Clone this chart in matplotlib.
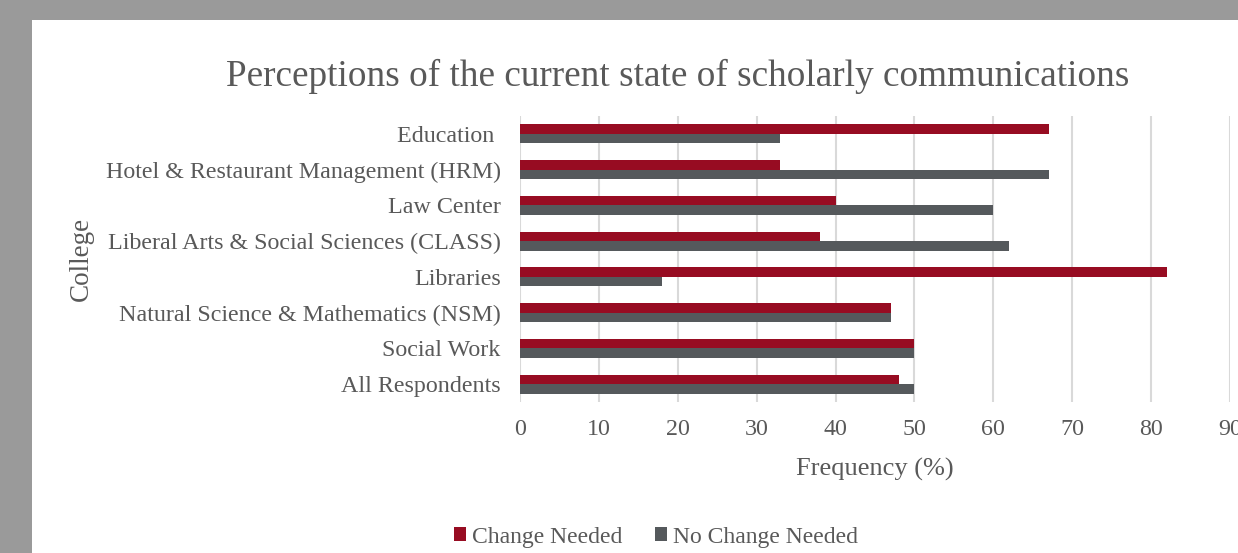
import numpy as np
import matplotlib.pyplot as plt
from matplotlib.patches import Rectangle

# 各学院对学术交流现状的看法 (%)
colleges = ['Education ', 'Hotel & Restaurant Management (HRM)', 'Law Center',
            'Liberal Arts & Social Sciences (CLASS)', 'Libraries',
            'Natural Science & Mathematics (NSM)', 'Social Work', 'All Respondents']
change_needed = [67, 33, 40, 38, 82, 47, 50, 48]
no_change_needed = [33, 67, 60, 62, 18, 47, 50, 50]
xticks = [0, 10, 20, 30, 40, 50, 60, 70, 80, 90]

red = '#970c22'
gray = '#55595c'
txt = '#595959'

plt.rcParams['font.family'] = ['Liberation Serif', 'DejaVu Serif']

fig = plt.figure(figsize=(12.38, 5.53), dpi=100)
fig.patch.set_facecolor('#9a9a9a')
# 白色图表区
fig.patches.append(Rectangle((32 / 1238, 0), 1 - 32 / 1238, 1 - 20 / 553,
                             transform=fig.transFigure, facecolor='white',
                             edgecolor='none', zorder=-10))

ax = fig.add_axes([520 / 1238, 1 - 402 / 553, 710 / 1238, 286 / 553])
ax.set_facecolor('none')

y = np.arange(len(colleges))
h = 0.265
ax.barh(y - h / 2, change_needed, height=h, color=red, label='Change Needed', zorder=3)
ax.barh(y + h / 2, no_change_needed, height=h, color=gray, label='No Change Needed', zorder=3)

ax.set_ylim(len(colleges) - 0.5, -0.5)
ax.set_xlim(0, 90)
ax.set_xticks(xticks)
ax.set_yticks(y)
ax.set_yticklabels(colleges)
ax.tick_params(axis='both', length=0, labelsize=17.3, colors=txt)
ax.tick_params(axis='y', pad=14)
ax.tick_params(axis='x', pad=12)
ax.xaxis.grid(True, color='#d9d9d9', linewidth=1.5, zorder=0)
for s in ax.spines.values():
    s.set_visible(False)

ax.set_xlabel('Frequency (%)', fontsize=19, color=txt, labelpad=13)
ax.set_ylabel('College', fontsize=19.5, color=txt)
ax.yaxis.set_label_coords(-0.60, 0.5)

fig.text(678 / 1238, 1 - 76 / 553, 'Perceptions of the current state of scholarly communications',
         ha='center', va='center', fontsize=26.8, color=txt)

fig.legend(loc='center', bbox_to_anchor=(656 / 1238, 1 - 537 / 553), ncol=2,
           frameon=False, fontsize=17, labelcolor=txt, handlelength=0.5,
           handleheight=0.5, handletextpad=0.25, columnspacing=1.4)

plt.savefig('out.png', dpi=100, facecolor=fig.get_facecolor())
